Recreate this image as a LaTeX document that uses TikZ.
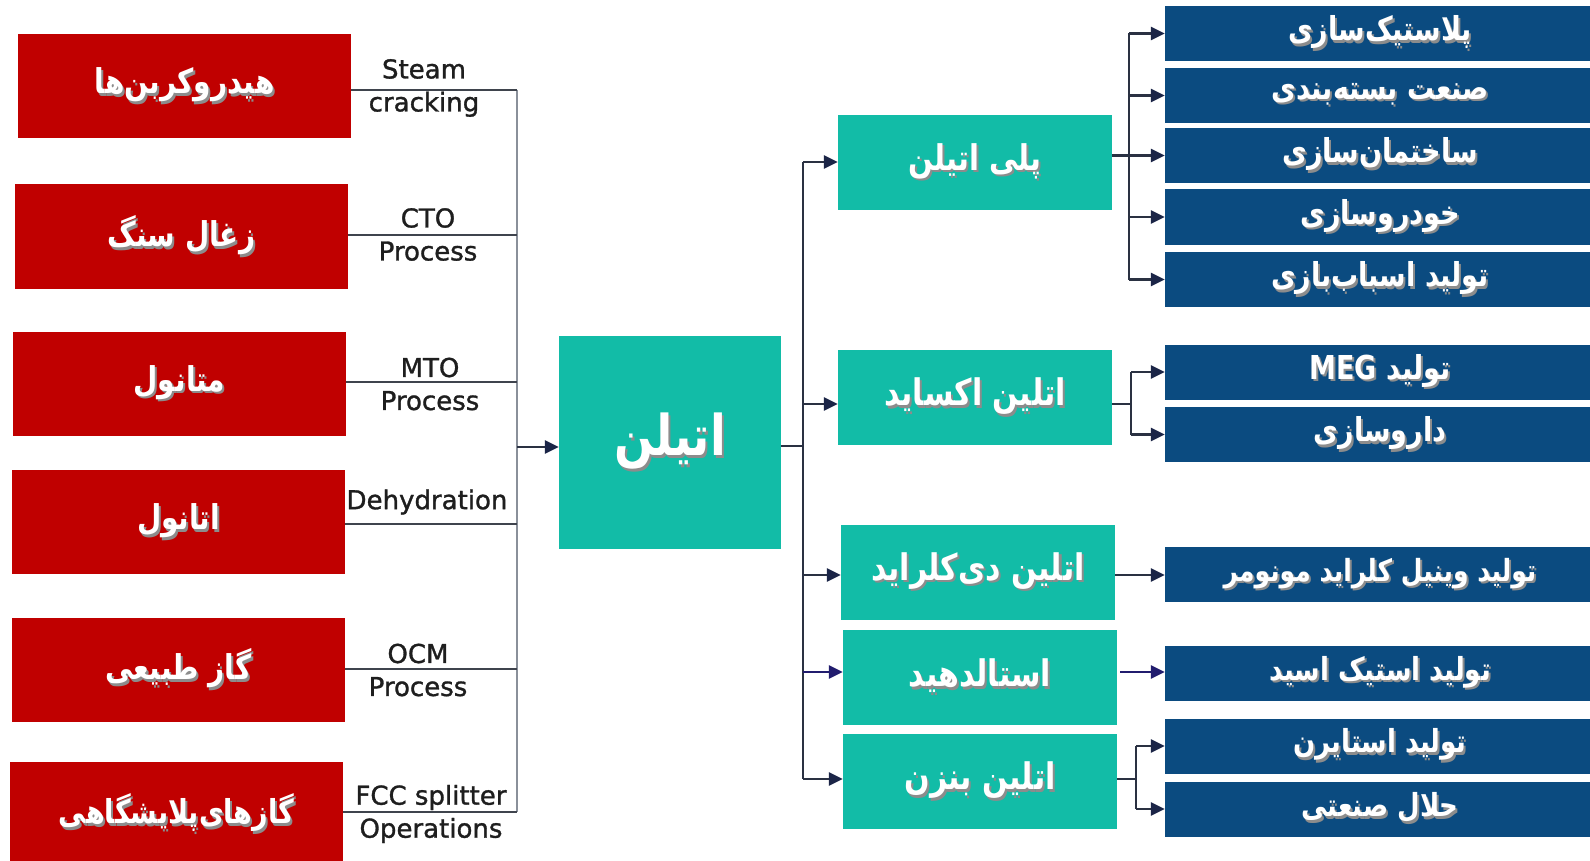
\documentclass[tikz,border=0pt]{standalone}
\usepackage{fontspec}
\setmainfont{DejaVu Sans}
\newfontfamily\fa[Script=Arabic]{DejaVu Sans}
\newfontfamily\procfont[FakeBold=1.2]{DejaVu Sans}
\TeXXeTstate=1
\usetikzlibrary{arrows.meta}
\definecolor{redc}{HTML}{C00000}
\definecolor{tealc}{HTML}{12BCA7}
\definecolor{bluec}{HTML}{0B4B80}
\definecolor{leftline}{HTML}{3F444D}
\definecolor{busgray}{HTML}{8A909A}
\definecolor{rightline}{HTML}{2A3142}
\definecolor{arrowc}{HTML}{1B2547}
\definecolor{indigoc}{HTML}{211C6E}
\definecolor{proctext}{HTML}{1E1E1E}
\newcommand\fatext[2]{{\fontsize{#1}{#1}\selectfont\fa\bfseries\scalebox{1}[1.22]{%
  \rlap{\hspace{2pt}\raisebox{-2pt}{\color{black!45}#2}}#2}}}
\tikzset{
 redbox/.style={fill=redc, text=white, minimum width=333, minimum height=104, inner sep=0pt},
 tealbox/.style={fill=tealc, text=white, minimum width=274, minimum height=95, inner sep=0pt},
 bluebox/.style={fill=bluec, text=white, minimum width=430, minimum height=55, inner sep=0pt},
 proc/.style={text=proctext, font=\procfont\fontsize{26}{33}\selectfont, align=center, inner sep=0pt},
 inline/.style={draw=leftline, line width=2.5pt},
 busline/.style={draw=busgray, line width=2.5pt},
 rline/.style={draw=rightline, line width=2.5pt},
 arr/.style={rline, -{Triangle[length=14pt,width=13pt,color=arrowc,fill=arrowc]}},
 iarr/.style={draw=indigoc, line width=2.5pt, -{Triangle[length=14pt,width=13pt,color=indigoc,fill=indigoc]}},
}
\begin{document}
\begin{tikzpicture}[x=1pt,y=-1pt]
\useasboundingbox[fill=white] (0,0) rectangle (1590,861);
% sources
\node[redbox] (r1) at (184.5,86) {\fatext{28}{\beginR هیدروکربن^^^^200cها\endR}};
\node[redbox] (r2) at (181.5,236.5) {\fatext{28}{\beginR زغال سنگ\endR}};
\node[redbox] (r3) at (179.5,383.5) {\fatext{28}{\beginR متانول\endR}};
\node[redbox] (r4) at (178.5,522) {\fatext{28}{\beginR اتانول\endR}};
\node[redbox] (r5) at (178.5,669.5) {\fatext{28}{\beginR گاز طبیعی\endR}};
\node[redbox] (r6) at (176.5,814) {\fatext{27}{\beginR گازهای^^^^200cپلایشگاهی\endR}};
% process labels
\node[proc] (p1) at (424,88) {Steam\\cracking};
\node[proc] (p2) at (428,234.5) {CTO\\Process};
\node[proc] (p3) at (430,384) {MTO\\Process};
\node[proc] (p4) at (427,502) {Dehydration};
\node[proc] (p5) at (418,670) {OCM\\Process};
\node[proc] (p6) at (431,814) {FCC splitter\\Operations};
% bus coordinates
\coordinate (s1) at (517,90);
\coordinate (s2) at (517,235);
\coordinate (s3) at (517,382);
\coordinate (s4) at (517,524);
\coordinate (s5) at (517,669);
\coordinate (s6) at (517,812);
\coordinate (sm) at (517,447);
\draw[busline] (s1) -- (s6);
\draw[inline] (r1.east |- s1) -- (s1);
\draw[inline] (r2.east |- s2) -- (s2);
\draw[inline] (r3.east |- s3) -- (s3);
\draw[inline] (r4.east |- s4) -- (s4);
\draw[inline] (r5.east |- s5) -- (s5);
\draw[inline] (r6.east |- s6) -- (s6);
% center
\node[fill=tealc, text=white, minimum width=222, minimum height=213, inner sep=0pt] (c) at (670,442.5) {\fatext{46}{\beginR اتیلن\endR}};
\draw[arr] (sm) -- (sm -| c.west);
% derivatives
\node[tealbox] (t1) at (975,162.5) {\fatext{29}{\beginR پلی اتیلن\endR}};
\node[tealbox] (t2) at (975,397.5) {\fatext{30}{\beginR اتلین اکساید\endR}};
\node[tealbox] (t3) at (978,572) {\fatext{30}{\beginR اتلین دی^^^^200cکلراید\endR}};
\node[tealbox] (t4) at (980,677) {\fatext{30}{\beginR استالدهید\endR}};
\node[tealbox] (t5) at (980,781.5) {\fatext{30}{\beginR اتلین بنزن\endR}};
\coordinate (m0) at (803,446);
\coordinate (m1) at (803,162);
\coordinate (m2) at (803,404);
\coordinate (m3) at (803,575);
\coordinate (m4) at (803,672);
\coordinate (m5) at (803,779);
\draw[rline] (c.east |- m0) -- (m0);
\draw[rline] (m1) -- (m5);
\draw[arr] (m1) -- (m1 -| t1.west);
\draw[arr] (m2) -- (m2 -| t2.west);
\draw[arr] (m3) -- (m3 -| t3.west);
\draw[iarr] (m4) -- (m4 -| t4.west);
\draw[arr] (m5) -- (m5 -| t5.west);
% applications
\node[bluebox] (b1) at (1380,33.5) {\fatext{27}{\beginR پلاستیک^^^^200cسازی\endR}};
\node[bluebox] (b2) at (1380,95.5) {\fatext{27}{\beginR صنعت بسته^^^^200cبندی\endR}};
\node[bluebox] (b3) at (1380,155.5) {\fatext{27}{\beginR ساختمان^^^^200cسازی\endR}};
\node[bluebox] (b4) at (1380,217) {\fatext{27}{\beginR خودروسازی\endR}};
\node[bluebox] (b5) at (1380,279.5) {\fatext{27}{\beginR تولید اسباب^^^^200cبازی\endR}};
\node[bluebox] (b6) at (1380,372) {\fatext{27}{\beginR تولید \beginL MEG\endL\endR}};
\node[bluebox] (b7) at (1380,434.5) {\fatext{27}{\beginR داروسازی\endR}};
\node[bluebox] (b8) at (1380,574.5) {\fatext{25}{\beginR تولید وینیل کلراید مونومر\endR}};
\node[bluebox] (b9) at (1380,673.5) {\fatext{26}{\beginR تولید استیک اسید\endR}};
\node[bluebox] (b10) at (1380,746) {\fatext{26}{\beginR تولید استایرن\endR}};
\node[bluebox] (b11) at (1380,809) {\fatext{26}{\beginR حلال صنعتی\endR}};
% polyethylene fan-out
\coordinate (k1) at (1129,33.5);
\coordinate (k2) at (1129,95.5);
\coordinate (k3) at (1129,155.5);
\coordinate (k4) at (1129,217);
\coordinate (k5) at (1129,279.5);
\draw[rline] (k1) -- (k5);
\draw[rline] (t1.east |- k3) -- (k3);
\foreach \i in {1,...,5} {\draw[arr] (k\i) -- (k\i -| b\i.west);}
% ethylene oxide fan-out
\coordinate (o0) at (1131,404);
\coordinate (o1) at (1131,372);
\coordinate (o2) at (1131,434.5);
\draw[rline] (t2.east |- o0) -- (o0);
\draw[rline] (o1) -- (o2);
\draw[arr] (o1) -- (o1 -| b6.west);
\draw[arr] (o2) -- (o2 -| b7.west);
% dichloride, acetaldehyde
\coordinate (d0) at (1115,575);
\draw[arr] (t3.east |- d0) -- (d0 -| b8.west);
\coordinate (a0) at (1120,672);
\draw[iarr] (a0) -- (a0 -| b9.west);
% ethylbenzene fan-out
\coordinate (e0) at (1136,779);
\coordinate (e1) at (1136,746);
\coordinate (e2) at (1136,809);
\draw[rline] (t5.east |- e0) -- (e0);
\draw[rline] (e1) -- (e2);
\draw[arr] (e1) -- (e1 -| b10.west);
\draw[arr] (e2) -- (e2 -| b11.west);
\end{tikzpicture}
\end{document}
